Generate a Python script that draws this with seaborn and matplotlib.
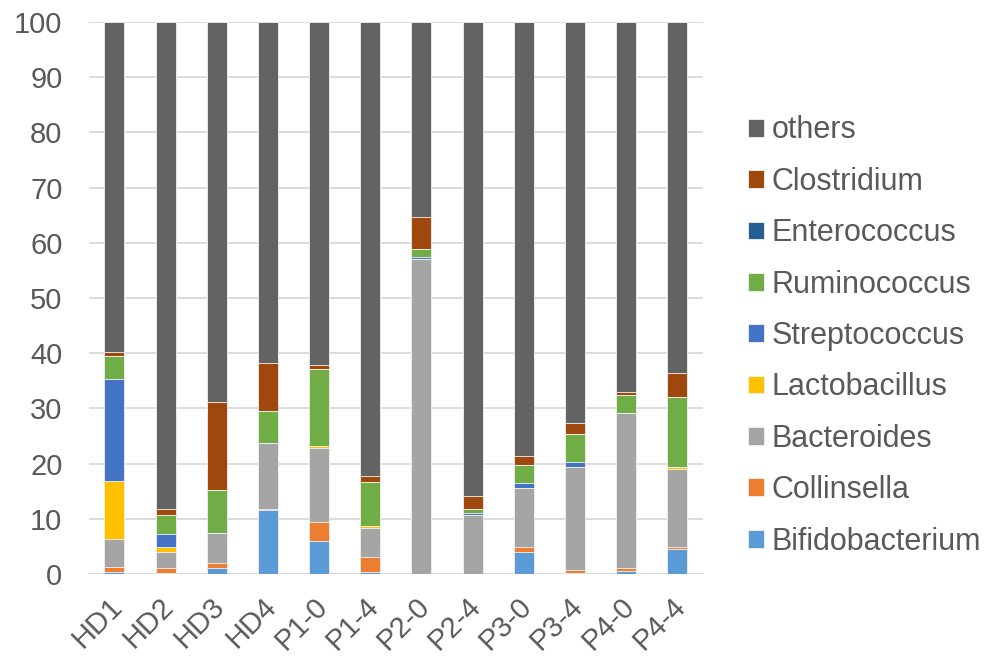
import numpy as np
import pandas as pd
import matplotlib
matplotlib.use("Agg")
import matplotlib.pyplot as plt
import matplotlib.transforms as mtransforms
import seaborn as sns

samples = ["HD1", "HD2", "HD3", "HD4", "P1-0", "P1-4",
           "P2-0", "P2-4", "P3-0", "P3-4", "P4-0", "P4-4"]

# relative abundance (%) per genus, bottom of the stack first
bifidobacterium = [0.3, 0.1, 1.0, 11.5, 5.9, 0.3, 0.0, 0.0, 3.9, 0.2, 0.5, 4.5]
collinsella     = [1.0, 1.05, 0.9, 0.3, 3.6, 2.7, 0.0, 0.0, 1.0, 0.5, 0.65, 0.3]
bacteroides     = [5.0, 2.75, 5.5, 11.9, 13.4, 5.3, 57.1, 10.7, 10.7, 18.6, 28.05, 14.3]
lactobacillus   = [10.6, 1.0, 0.0, 0.0, 0.3, 0.3, 0.0, 0.0, 0.0, 0.0, 0.0, 0.3]
streptococcus   = [18.5, 2.3, 0.0, 0.0, 0.0, 0.0, 0.4, 0.3, 0.9, 0.9, 0.0, 0.0]
ruminococcus    = [4.0, 3.4, 7.9, 5.8, 14.0, 8.0, 1.4, 0.8, 3.3, 5.2, 3.3, 12.7]
enterococcus    = [0.1, 0.0, 0.0, 0.0, 0.0, 0.0, 0.0, 0.0, 0.0, 0.0, 0.0, 0.0]
clostridium     = [0.7, 1.1, 15.9, 8.8, 0.7, 1.1, 5.7, 2.3, 1.5, 1.9, 0.5, 4.3]
others          = [59.8, 88.3, 68.8, 61.7, 62.1, 82.3, 35.4, 85.9, 78.7, 72.7, 67.0, 63.6]

genera = ["Bifidobacterium", "Collinsella", "Bacteroides", "Lactobacillus",
          "Streptococcus", "Ruminococcus", "Enterococcus", "Clostridium", "others"]
values = [bifidobacterium, collinsella, bacteroides, lactobacillus,
          streptococcus, ruminococcus, enterococcus, clostridium, others]
colors = ["#5B9BD5", "#ED7D31", "#A5A5A5", "#FFC000",
          "#4472C4", "#70AD47", "#255E91", "#9E480E", "#636363"]

df = pd.DataFrame(dict(zip(genera, values)), index=samples)
cum = df.cumsum(axis=1)

sns.set_style("white")
plt.rcParams["font.family"] = ["Liberation Sans", "DejaVu Sans"]

fig = plt.figure(figsize=(9.87, 6.58), dpi=100)
ax = fig.add_axes([0.090, 0.1277, 0.622, 0.839])

# stacked bars: draw cumulative totals from the top layer down
for genus, color in zip(reversed(genera), reversed(colors)):
    sns.barplot(x=samples, y=cum[genus].values, color=color, width=0.39,
                label=genus, edgecolor="#F2F2F2", linewidth=0.6,
                saturation=1, ax=ax, zorder=3)

ax.set_ylim(0, 100)
ax.set_xlim(-0.5, len(samples) - 0.5)
ax.set_yticks(np.arange(0, 101, 10))
ax.yaxis.grid(True, color="#D9D9D9", linewidth=1.3, zorder=0)
ax.set_axisbelow(True)
for s in ax.spines.values():
    s.set_visible(False)
ax.axhline(0, color="#D9D9D9", linewidth=1.3, zorder=1)

ax.tick_params(axis="both", length=0, labelsize=21, colors="#595959")
ax.tick_params(axis="y", pad=19)
ax.set_xticks(range(len(samples)))
ax.set_xticklabels(samples, rotation=45, ha="right", va="top",
                   rotation_mode="anchor")
ax.tick_params(axis="x", pad=13)
shift = mtransforms.ScaledTranslation(-6 / 100, 0, fig.dpi_scale_trans)
for lab in ax.get_xticklabels():
    lab.set_transform(lab.get_transform() + shift)
ax.set_xlabel("")
ax.set_ylabel("")

leg = ax.legend(loc="center left", bbox_to_anchor=(1.054, 0.431), frameon=False,
                fontsize=22, labelcolor="#595959", handlelength=0.52,
                handleheight=0.52, handletextpad=0.25, labelspacing=0.70,
                borderaxespad=0)

fig.savefig("out.png", dpi=100)
